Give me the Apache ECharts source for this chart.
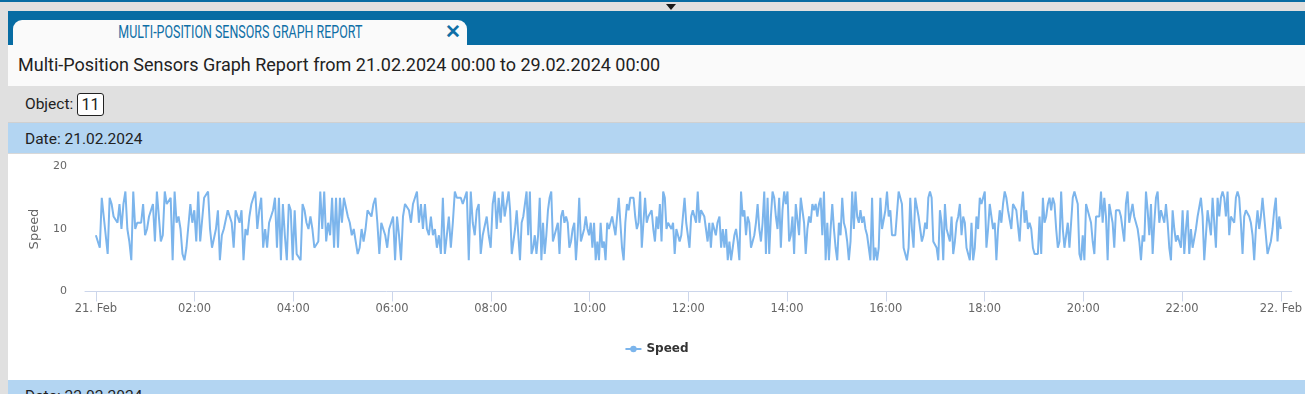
<!DOCTYPE html>
<html>
<head>
<meta charset="utf-8">
<script src="https://cdn.jsdelivr.net/npm/echarts@6/dist/echarts.min.js"></script>
<style>
  html, body { margin:0; padding:0; }
  body { width:1305px; height:394px; background:#e0e0e0; position:relative; overflow:hidden; font-family: Roboto, "Noto Sans", sans-serif; }
  .abs { position:absolute; }
  #topstrip { left:0; top:0; width:1305px; height:2px; background:#076ca3; }
  #tri { left:666px; top:4px; width:0; height:0; border-left:5.5px solid transparent; border-right:5.5px solid transparent; border-top:6px solid #1a1a1a; }
  #blueband { left:8px; top:11px; width:1297px; height:34px; background:#076ca3; }
  #tab { left:13px; top:20px; width:454px; height:25px; background:#fafafa; border-radius:9px 9px 0 0; }
  #tabtitle { left:0; top:1px; width:454px; text-align:center; color:#0f6fa6; font-size:18px; line-height:22px; white-space:nowrap; }
  #tabtitle span { display:inline-block; transform-origin:center; }
  #tabx { left:432px; top:1px; color:#0f6fa6; font-size:19px; font-weight:bold; line-height:22px; }
  #titlearea { left:8px; top:45px; width:1297px; height:41px; background:#fafafa; }
  #title { left:10px; top:9px; font-size:18px; color:#222; white-space:nowrap; }
  #objband { left:8px; top:86px; width:1297px; height:37px; background:#e0e0e0; border-bottom:1px solid #d0d0d0; box-sizing:border-box; }
  #objlabel { left:17px; top:9px; font-size:15.5px; color:#222; }
  #objbox { left:69px; top:7px; width:27px; height:23px; box-sizing:border-box; background:#fff; border:1px solid #222; border-radius:3px; font-size:16px; color:#222; text-align:center; line-height:21px; }
  #dateband { left:8px; top:123px; width:1297px; height:31px; background:#b3d5f2; border-bottom:1px solid #d8d8d8; box-sizing:border-box; }
  .datetxt { left:17px; top:7px; font-size:15.5px; color:#222; white-space:nowrap; }
  #chart { left:8px; top:154px; width:1297px; height:226px; background:#fff; }
  #dateband2 { left:8px; top:380px; width:1297px; height:31px; background:#b3d5f2; }
</style>
</head>
<body>
<div class="abs" id="topstrip"></div>
<div class="abs" id="tri"></div>
<div class="abs" id="blueband"></div>
<div class="abs" id="tab">
  <div class="abs" id="tabtitle"><span id="tabspan">MULTI-POSITION SENSORS GRAPH REPORT</span></div>
  <div class="abs" id="tabx">✕</div>
</div>
<div class="abs" id="titlearea"><div class="abs" id="title">Multi-Position Sensors Graph Report from 21.02.2024 00:00 to 29.02.2024 00:00</div></div>
<div class="abs" id="objband"><div class="abs" id="objlabel">Object:</div><div class="abs" id="objbox">11</div></div>
<div class="abs" id="dateband"><div class="abs datetxt">Date: 21.02.2024</div></div>
<div class="abs" id="chart"></div>
<div class="abs" id="dateband2"><div class="abs datetxt">Date: 22.02.2024</div></div>
<script>
// fit condensed tab title width
(function(){
  var s = document.getElementById('tabspan');
  var w = s.getBoundingClientRect().width;
  s.style.transform = 'scaleX(' + (244 / w) + ')';
})();

// ---- data ----
var seriesName = 'Speed';
var dayLabelStart = '21. Feb';
var dayLabelEnd = '22. Feb';
var tickHours = [0, 2, 4, 6, 8, 10, 12, 14, 16, 18, 20, 22, 24];
var yTicks = [0, 10, 20];

// segments of readings: start / end hour of each block of readings
var segStart = [0, 6.14, 8.39, 12.63, 16.86, 21.10];
var segEnd   = [6.10, 8.36, 12.59, 16.83, 21.03, 24.0];

var speedA = [9,9,7,15,15,9,6,15,14,12,12,11,14,10,14,16,10,8,5,16,10,11,11,11,14,9,10,12,13,14,8,16,16,8,9,16,14,14,15,5,16,11,12,10,6,5,7,7,14,11,13,8,16,8,8,15,15,16,10,7,7,10,13,5,9,10,10,13,12,11,7,13,12,11,13,5,10,9,12,14,15,16,10,13,15,7,10,7,11,11,13,15,7,15,5,14,9,5,14,13,5,13,6,6,5,14,13,11,10,12,10,7,7,8,16,10,16,8,11,9,15,7,15,7,15,11,15,15,12,11,9,10,10,6,7,10,8,10,13,13,12,14,15,11,6,11,11,9,7,10,10,12,5,12];
var speedB = [9,5,12,14,14,13,11,14,15,16,11,14,10,14,10,9,12,9,10,7,9,6,15,6,9,12,7,11,16,15,15,15,14,15,16,5,16,11,9,13,14,6,9,9,12,9,7,14,16,10,15,11,16,12,14,16];
var speedC = [13,6,6,10,13,13,5,11,12,12,16,9,16,6,7,9,6,9,15,5,11,6,9,13,15,16,8,9,9,11,6,12,13,11,12,11,7,8,10,11,5,9,15,8,9,10,12,10,9,11,7,11,5,8,5,11,7,8,5,11,10,11,12,12,9,12,15,11,7,5,11,14,13,15,15,15,12,10,11,16,7,11,15,11,12,12,13,10,8,12,10,14,8,16,15,10,11,11,10,11,6,10,9,8,9,12,15,11,11,7,12,13,13,11,16,11,13,13,12,10,8,11,7,11,11,9,11];
var speedD = [12,7,10,7,10,5,8,5,7,9,10,8,5,16,12,13,9,12,11,7,8,9,11,14,10,8,11,16,6,15,6,12,16,15,12,10,15,7,13,16,14,16,8,9,12,6,14,14,9,15,13,11,6,10,12,11,14,13,14,12,14,15,9,16,5,11,5,10,14,10,7,5,11,9,15,11,10,8,5,8,16,10,16,12,11,13,11,12,10,9,7,5,15,5,7,5,7,15,10,10,13,16,12,13,9,9,9,9,16,16,14,7,6,5,7,15,10,7,15,15,12,10,8,9,11,10];
var speedE = [15,16,15,8,8,7,5,13,11,5,14,10,9,8,12,6,8,11,12,14,9,12,11,7,6,5,11,5,7,12,10,15,14,15,16,7,10,14,12,10,11,5,10,13,11,14,16,15,13,13,10,14,14,13,13,8,13,16,11,13,10,11,10,7,6,6,6,12,6,15,11,12,14,15,13,15,14,10,7,8,16,10,7,7,11,7,11,15,16,16,14,6,5,9,5,14,14,12,11,8,6,12,12,12,16,11,15,12,5,14,14,11,7,13,13,13,12,10,8,14,16,11,11,14,12];
var speedF = [10,8,5,9,8,16,13,9,14,6,11,15,16,11,13,13,11,14,11,7,5,13,10,8,9,9,7,13,6,10,13,6,10,7,7,10,12,12,15,12,5,5,13,11,9,15,15,7,15,12,15,16,15,12,16,9,12,12,11,15,16,15,11,6,12,13,13,12,11,9,5,10,13,10,12,15,12,9,6,7,8,10,13,15,8,12,10];

var segments = [speedA, speedB, speedC, speedD, speedE, speedF];
var points = [];
segments.forEach(function(vals, si){
  var n = vals.length;
  var step = (segEnd[si] - segStart[si]) / (n - 1);
  vals.forEach(function(v, j){ points.push([segStart[si] + j * step, v]); });
});

function pad(n){ return (n < 10 ? '0' : '') + n; }

var chart = echarts.init(document.getElementById('chart'), null, {renderer:'canvas'});
var axisCol = '#ccd6eb';
var labelFont = '"DejaVu Sans", Verdana, sans-serif';
chart.setOption({
  animation: false,
  grid: { left: 77, right: 8, top: 12.5, height: 125 },
  legend: {
    data: [seriesName],
    top: 184,
    left: 'center',
    itemWidth: 16,
    itemHeight: 8,
    itemGap: 6,
    textStyle: { fontSize: 12, fontWeight: 'bold', color: '#333', fontFamily: labelFont }
  },
  xAxis: {
    type: 'value',
    min: -0.22,
    max: 24.22,
    axisLine: { show: true, lineStyle: { color: axisCol, width: 1 } },
    axisTick: { show: true, length: 10, lineStyle: { color: axisCol }, customValues: tickHours },
    splitLine: { show: false },
    axisLabel: {
      customValues: tickHours,
      margin: 12,
      color: '#666',
      fontSize: 11.5,
      fontFamily: labelFont,
      formatter: function(v){
        if (v === 0) return dayLabelStart;
        if (v === 24) return dayLabelEnd;
        return pad(v) + ':00';
      }
    }
  },
  yAxis: {
    type: 'value',
    min: yTicks[0],
    max: yTicks[yTicks.length - 1],
    interval: 10,
    name: seriesName,
    nameLocation: 'middle',
    nameGap: 44,
    nameTextStyle: { color: '#666', fontSize: 13, fontFamily: labelFont },
    axisLine: { show: false },
    axisTick: { show: false },
    splitLine: { show: false },
    axisLabel: { color: '#666', fontSize: 11, fontFamily: labelFont, margin: 18 }
  },
  series: [{
    name: seriesName,
    type: 'line',
    data: points,
    symbol: 'circle',
    symbolSize: 8,
    showSymbol: false,
    lineStyle: { color: '#7cb5ec', width: 2 },
    itemStyle: { color: '#7cb5ec' },
    emphasis: { disabled: true }
  }]
});
</script>
</body>
</html>
